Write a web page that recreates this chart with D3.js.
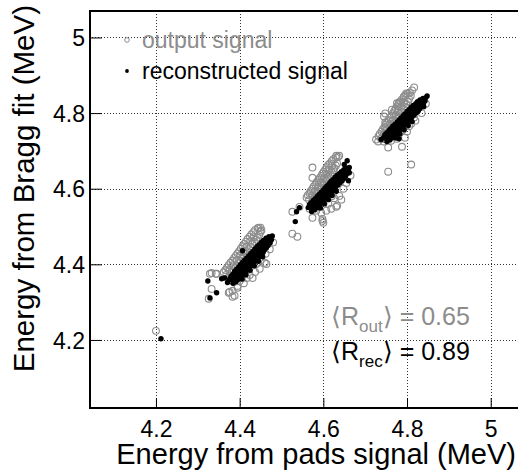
<!DOCTYPE html>
<html>
<head>
<meta charset="utf-8">
<script src="https://cdn.jsdelivr.net/npm/d3@7"></script>
<style>
  html, body { margin: 0; padding: 0; background: #fff; }
  svg { display: block; font-family: "Liberation Sans", Arial, sans-serif; }
</style>
</head>
<body>
<script>
// tick values
var xTicks = [4.2, 4.4, 4.6, 4.8, 5];
var yTicks = [4.2, 4.4, 4.6, 4.8, 5];
var xTickLabels = ["4.2", "4.4", "4.6", "4.8", "5"];
var yTickLabels = ["4.2", "4.4", "4.6", "4.8", "5"];

// output signal (grey open circles) [pads, bragg]
var out1 = [
  [4.362,4.379],[4.368,4.372],[4.374,4.365],[4.366,4.385],[4.378,4.371],[4.370,4.392],[4.376,4.385],
  [4.382,4.378],[4.374,4.398],[4.386,4.384],[4.378,4.404],[4.384,4.397],[4.390,4.390],[4.383,4.410],
  [4.395,4.396],[4.387,4.417],[4.393,4.410],[4.399,4.403],[4.391,4.423],[4.403,4.409],[4.395,4.429],
  [4.401,4.422],[4.407,4.415],[4.399,4.435],[4.411,4.421],[4.403,4.442],[4.409,4.435],[4.415,4.428],
  [4.407,4.448],[4.419,4.434],[4.411,4.454],[4.417,4.447],[4.423,4.440],[4.415,4.460],[4.427,4.446],
  [4.419,4.467],[4.425,4.460],[4.431,4.453],[4.424,4.473],[4.436,4.459],[4.428,4.479],[4.434,4.472],
  [4.440,4.465],[4.433,4.485],[4.443,4.471],[4.437,4.491],[4.447,4.478],[4.443,4.495],[4.450,4.486],
  [4.450,4.497],[4.445,4.497],[4.452,4.490]
];
var out1Stray = [
  [4.329,4.375],[4.343,4.375],[4.333,4.335],[4.374,4.325],[4.383,4.314],[4.395,4.338],[4.405,4.364],
  [4.440,4.401],[4.464,4.401],[4.383,4.330],[4.395,4.343],[4.400,4.356],[4.417,4.364],[4.431,4.364],
  [4.448,4.388],[4.460,4.404],[4.462,4.428],[4.333,4.377],[4.345,4.375],[4.376,4.327],[4.388,4.317],
  [4.326,4.309],[4.410,4.350],[4.424,4.372],[4.437,4.380],[4.450,4.410],[4.472,4.440],[4.480,4.458],
  [4.420,4.385]
];
var out2 = [
  [4.560,4.577],[4.566,4.570],[4.572,4.563],[4.563,4.583],[4.575,4.569],[4.567,4.588],[4.573,4.581],
  [4.579,4.574],[4.570,4.594],[4.582,4.580],[4.574,4.600],[4.580,4.593],[4.586,4.586],[4.577,4.606],
  [4.589,4.592],[4.581,4.611],[4.587,4.604],[4.593,4.597],[4.584,4.617],[4.596,4.603],[4.588,4.623],
  [4.594,4.616],[4.600,4.609],[4.591,4.628],[4.603,4.614],[4.595,4.634],[4.601,4.627],[4.607,4.620],
  [4.598,4.640],[4.610,4.626],[4.601,4.645],[4.607,4.638],[4.613,4.631],[4.605,4.651],[4.617,4.637],
  [4.608,4.657],[4.614,4.650],[4.620,4.643],[4.612,4.663],[4.624,4.649],[4.616,4.667],[4.621,4.661],
  [4.626,4.655],[4.620,4.673],[4.630,4.661],[4.624,4.678],[4.633,4.667],[4.630,4.682],[4.635,4.684],
  [4.631,4.687],[4.638,4.687]
];
var out2Stray = [
  [4.574,4.656],[4.574,4.629],[4.574,4.523],[4.598,4.515],[4.631,4.552],[4.526,4.539],[4.543,4.552],
  [4.526,4.481],[4.538,4.473],[4.583,4.542],[4.595,4.536],[4.607,4.542],[4.619,4.547],[4.633,4.555],
  [4.643,4.571],[4.638,4.581],[4.598,4.520],[4.600,4.510],[4.567,4.547],[4.570,4.556],[4.612,4.560],
  [4.626,4.575],[4.648,4.600],[4.655,4.615],[4.665,4.635],[4.620,4.580]
];
var out3 = [
  [4.732,4.739],[4.738,4.732],[4.744,4.725],[4.735,4.745],[4.747,4.731],[4.739,4.751],[4.745,4.744],
  [4.751,4.737],[4.742,4.757],[4.754,4.743],[4.746,4.763],[4.752,4.756],[4.758,4.749],[4.749,4.770],
  [4.761,4.756],[4.753,4.776],[4.759,4.769],[4.765,4.762],[4.756,4.782],[4.768,4.768],[4.760,4.788],
  [4.766,4.781],[4.772,4.774],[4.763,4.794],[4.775,4.780],[4.767,4.800],[4.773,4.793],[4.779,4.786],
  [4.770,4.806],[4.782,4.792],[4.773,4.812],[4.779,4.805],[4.785,4.798],[4.777,4.818],[4.789,4.804],
  [4.780,4.824],[4.786,4.817],[4.792,4.810],[4.784,4.831],[4.796,4.817],[4.788,4.836],[4.793,4.830],
  [4.798,4.824],[4.792,4.842],[4.802,4.830],[4.796,4.847],[4.805,4.837],[4.802,4.851],[4.807,4.854]
];
var out3Stray = [
  [4.817,4.868],[4.793,4.844],[4.748,4.799],[4.755,4.645],[4.810,4.664],[4.755,4.709],[4.726,4.730],
  [4.745,4.791],[4.748,4.775],[4.748,4.762],[4.752,4.746],[4.731,4.725],[4.762,4.727],[4.776,4.732],
  [4.795,4.735],[4.788,4.711],[4.800,4.751],[4.810,4.772],[4.817,4.788],[4.781,4.828],[4.798,4.852],
  [4.764,4.809],[4.776,4.826],[4.809,4.846],[4.812,4.860],[4.820,4.780],[4.835,4.800],[4.845,4.825],
  [4.790,4.755],[4.805,4.765]
];
var outLone = [[4.200,4.224]];

// reconstructed signal (black dots) [pads, bragg]
var rec1 = [
  [4.376,4.360],[4.384,4.350],[4.379,4.368],[4.385,4.361],[4.391,4.354],[4.384,4.374],[4.396,4.360],
  [4.390,4.367],[4.388,4.381],[4.395,4.373],[4.401,4.366],[4.406,4.361],[4.393,4.387],[4.400,4.379],
  [4.407,4.371],[4.398,4.393],[4.405,4.385],[4.411,4.378],[4.415,4.372],[4.402,4.399],[4.409,4.391],
  [4.416,4.383],[4.407,4.405],[4.414,4.397],[4.420,4.390],[4.425,4.384],[4.412,4.411],[4.419,4.403],
  [4.426,4.395],[4.417,4.417],[4.424,4.409],[4.430,4.402],[4.435,4.396],[4.422,4.423],[4.429,4.415],
  [4.436,4.407],[4.427,4.429],[4.434,4.421],[4.440,4.414],[4.445,4.408],[4.432,4.435],[4.439,4.427],
  [4.446,4.419],[4.437,4.441],[4.444,4.433],[4.450,4.426],[4.455,4.420],[4.442,4.447],[4.449,4.439],
  [4.456,4.431],[4.447,4.452],[4.453,4.445],[4.459,4.438],[4.452,4.458],[4.458,4.451],[4.464,4.444],
  [4.457,4.463],[4.463,4.457],[4.468,4.450],[4.463,4.469],[4.468,4.463],[4.473,4.457],[4.470,4.473],
  [4.476,4.465],[4.478,4.475]
];
var rec1Stray = [
  [4.324,4.356],[4.345,4.325],[4.329,4.311],[4.357,4.362],[4.364,4.364],[4.371,4.352],[4.407,4.436]
];
var rec2 = [
  [4.564,4.550],[4.572,4.540],[4.567,4.558],[4.573,4.551],[4.579,4.544],[4.571,4.563],[4.583,4.549],
  [4.577,4.556],[4.576,4.569],[4.582,4.562],[4.588,4.555],[4.593,4.549],[4.581,4.574],[4.587,4.567],
  [4.593,4.560],[4.586,4.580],[4.592,4.573],[4.598,4.566],[4.603,4.560],[4.590,4.585],[4.596,4.578],
  [4.602,4.571],[4.595,4.591],[4.601,4.584],[4.607,4.577],[4.612,4.571],[4.600,4.596],[4.606,4.589],
  [4.612,4.582],[4.604,4.602],[4.610,4.595],[4.616,4.588],[4.621,4.582],[4.609,4.608],[4.615,4.601],
  [4.621,4.594],[4.614,4.613],[4.620,4.606],[4.626,4.599],[4.631,4.593],[4.618,4.619],[4.624,4.612],
  [4.630,4.605],[4.623,4.624],[4.629,4.617],[4.635,4.610],[4.628,4.630],[4.634,4.623],[4.640,4.616],
  [4.633,4.635],[4.639,4.628],[4.645,4.621],[4.638,4.640],[4.643,4.634],[4.649,4.627],[4.643,4.645],
  [4.648,4.639],[4.653,4.633],[4.649,4.650],[4.657,4.640],[4.655,4.654],[4.660,4.646],[4.662,4.656]
];
var rec2Stray = [
  [4.533,4.513],[4.536,4.539],[4.543,4.550],[4.650,4.664],[4.657,4.674],[4.662,4.642],[4.660,4.621]
];
var rec3 = [
  [4.744,4.735],[4.752,4.725],[4.747,4.743],[4.753,4.736],[4.759,4.729],[4.752,4.748],[4.758,4.741],
  [4.764,4.734],[4.757,4.754],[4.763,4.747],[4.769,4.740],[4.774,4.734],[4.761,4.759],[4.767,4.752],
  [4.773,4.745],[4.766,4.765],[4.772,4.758],[4.778,4.751],[4.783,4.745],[4.771,4.770],[4.777,4.763],
  [4.783,4.756],[4.776,4.776],[4.782,4.769],[4.788,4.762],[4.793,4.756],[4.781,4.781],[4.787,4.774],
  [4.793,4.767],[4.786,4.787],[4.792,4.780],[4.798,4.773],[4.803,4.767],[4.791,4.793],[4.797,4.786],
  [4.803,4.779],[4.795,4.798],[4.801,4.791],[4.807,4.784],[4.812,4.778],[4.800,4.804],[4.806,4.797],
  [4.812,4.790],[4.805,4.809],[4.811,4.802],[4.817,4.795],[4.810,4.815],[4.816,4.808],[4.822,4.801],
  [4.815,4.820],[4.821,4.813],[4.827,4.806],[4.821,4.825],[4.826,4.819],[4.831,4.812],[4.825,4.830],
  [4.830,4.824],[4.835,4.818],[4.831,4.835],[4.839,4.825],[4.838,4.839],[4.843,4.832],[4.845,4.841]
];
var rec3Stray = [
  [4.738,4.730],[4.781,4.732],[4.836,4.833],[4.840,4.817],[4.848,4.845]
];
var recLone = [[4.212,4.203]];

var outPoints = out1.concat(out1Stray, out2, out2Stray, out3, out3Stray, outLone);
var recPoints = rec1.concat(rec1Stray, rec2, rec2Stray, rec3, rec3Stray, recLone);

var width = 518, height = 471;
var greyCol = "#8c8c8c";

var svg = d3.select("body").append("svg")
  .attr("width", width)
  .attr("height", height);

var x = d3.scaleLinear().domain([4.04, 5.07]).range([89, 520]);
var y = d3.scaleLinear().domain([4.02, 5.07]).range([408, 11]);

// grid
svg.append("g").selectAll("line")
  .data(xTicks)
  .enter().append("line")
  .attr("x1", function(d) { return Math.round(x(d)) + 0.5; })
  .attr("x2", function(d) { return Math.round(x(d)) + 0.5; })
  .attr("y1", y(5.07)).attr("y2", y(4.02))
  .attr("stroke", "#333").attr("stroke-dasharray", "1,2");

svg.append("g").selectAll("line")
  .data(yTicks)
  .enter().append("line")
  .attr("y1", function(d) { return Math.round(y(d)) + 0.5; })
  .attr("y2", function(d) { return Math.round(y(d)) + 0.5; })
  .attr("x1", x(4.04)).attr("x2", width)
  .attr("stroke", "#333").attr("stroke-dasharray", "1,2");

// points
svg.append("g").selectAll("circle")
  .data(outPoints)
  .enter().append("circle")
  .attr("cx", function(d) { return x(d[0]); })
  .attr("cy", function(d) { return y(d[1]); })
  .attr("r", 3.4)
  .attr("fill", "none")
  .attr("stroke", greyCol)
  .attr("stroke-width", 1.1);

svg.append("g").selectAll("circle")
  .data(recPoints)
  .enter().append("circle")
  .attr("cx", function(d) { return x(d[0]); })
  .attr("cy", function(d) { return y(d[1]); })
  .attr("r", 2.7)
  .attr("fill", "#000");

// axes (ticks inside)
var xAxis = d3.axisBottom(x).tickValues(xTicks).tickSize(-10).tickFormat(function(d, i) { return xTickLabels[i]; });
var yAxis = d3.axisLeft(y).tickValues(yTicks).tickSize(-12).tickFormat(function(d, i) { return yTickLabels[i]; });

var gx = svg.append("g").attr("transform", "translate(0,408)").call(xAxis);
var gy = svg.append("g").attr("transform", "translate(90,0)").call(yAxis);

[gx, gy].forEach(function(g) {
  g.select(".domain").remove();
  g.selectAll(".tick line").attr("stroke", "#000").attr("stroke-width", 1);
  g.selectAll(".tick text").attr("fill", "#000").style("font-size", "23px")
    .style("font-family", "Liberation Sans, Arial, sans-serif");
});
gx.selectAll(".tick text").attr("y", 29).attr("dy", null);
gy.selectAll(".tick text").attr("x", -5).attr("dy", "0.36em");

// frame
svg.append("line").attr("x1", 89).attr("x2", width).attr("y1", 11).attr("y2", 11).attr("stroke", "#000").attr("stroke-width", 2);
svg.append("line").attr("x1", 89).attr("x2", width).attr("y1", 408).attr("y2", 408).attr("stroke", "#000").attr("stroke-width", 2);
svg.append("line").attr("x1", 90).attr("x2", 90).attr("y1", 10).attr("y2", 409).attr("stroke", "#000").attr("stroke-width", 2);

// axis titles
svg.append("text")
  .attr("x", 516).attr("y", 464)
  .attr("text-anchor", "end")
  .style("font-size", "29px")
  .text("Energy from pads signal (MeV)");

svg.append("text")
  .attr("transform", "translate(34,5) rotate(-90)")
  .attr("text-anchor", "end")
  .style("font-size", "29.5px")
  .text("Energy from Bragg fit (MeV)");

// legend
svg.append("circle").attr("cx", 127).attr("cy", 40).attr("r", 2.3)
  .attr("fill", "none").attr("stroke", greyCol).attr("stroke-width", 1);
svg.append("text").attr("x", 142).attr("y", 48).attr("fill", greyCol)
  .style("font-size", "23px").text("output signal");
svg.append("circle").attr("cx", 127).attr("cy", 71).attr("r", 1.9).attr("fill", "#000");
svg.append("text").attr("x", 142).attr("y", 79).attr("fill", "#000")
  .style("font-size", "23px").text("reconstructed signal");

// correlation annotations
function rLabel(sub, val, yb, col) {
  var t = svg.append("text").attr("x", 331).attr("y", yb).attr("fill", col).style("font-size", "25px");
  t.append("tspan").text("\u27E8R");
  t.append("tspan").attr("dy", 7).style("font-size", "17px").text(sub);
  t.append("tspan").attr("dy", -7).text("\u27E9 = " + val);
}
rLabel("out", "0.65", 325, greyCol);
rLabel("rec", "0.89", 360, "#000");
</script>
</body>
</html>
